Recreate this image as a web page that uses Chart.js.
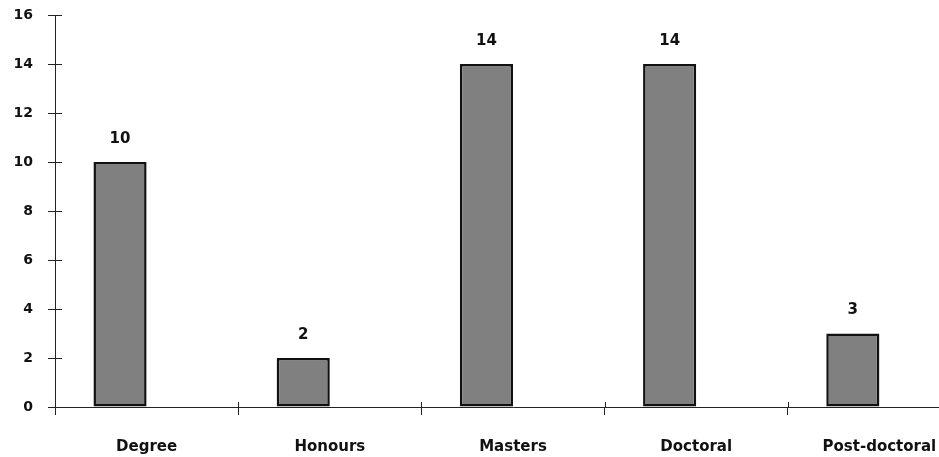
<!DOCTYPE html>
<html>
<head>
<meta charset="utf-8">
<script src="https://cdn.jsdelivr.net/npm/chart.js@4"></script>
<style>
  html, body { margin: 0; padding: 0; background: #fff; overflow: hidden; }
  #wrap { position: relative; width: 976px; height: 457px; }
</style>
</head>
<body>
<div id="wrap"><canvas id="c"></canvas></div>
<script>
// Qualification levels and counts
const categories = ['Degree', 'Honours', 'Masters', 'Doctoral', 'Post-doctoral'];
const counts = [10, 2, 14, 14, 3];
// Empty companion series (keeps the bars to the left half of each slot)
const spare = [null, null, null, null, null];
const yTicks = [0, 2, 4, 6, 8, 10, 12, 14, 16];

const FONT = 'DejaVu Sans';

// Short tick marks on the inner side of both axes, plus value labels above bars
const extras = {
  id: 'extras',
  afterDatasetsDraw(chart) {
    const ctx = chart.ctx;
    const x = chart.scales.x, y = chart.scales.y;
    ctx.save();
    ctx.strokeStyle = '#222';
    ctx.lineWidth = 1;
    ctx.beginPath();
    y.ticks.forEach((t, i) => {
      const py = Math.round(y.getPixelForTick(i)) + 0.5;
      ctx.moveTo(x.left, py); ctx.lineTo(x.left + 7, py);
    });
    for (let i = 1; i < categories.length; i++) {
      const px = Math.round((x.getPixelForTick(i) + x.getPixelForTick(i - 1)) / 2) + 0.5;
      ctx.moveTo(px, y.bottom); ctx.lineTo(px, y.bottom - 5);
    }
    ctx.stroke();

    const meta = chart.getDatasetMeta(0);
    ctx.fillStyle = '#111';
    ctx.font = 'bold 15px ' + FONT;
    ctx.textAlign = 'center';
    ctx.textBaseline = 'middle';
    meta.data.forEach((bar, i) => {
      ctx.fillText(String(counts[i]), bar.x, bar.y - 23);
    });
    ctx.restore();
  }
};

new Chart(document.getElementById('c'), {
  type: 'bar',
  data: {
    labels: categories,
    datasets: [
      { data: counts, backgroundColor: '#808080', borderColor: '#111', borderWidth: 2.5,
        borderSkipped: false, categoryPercentage: 0.58, barPercentage: 1.0 },
      { data: spare, backgroundColor: 'rgba(0,0,0,0)',
        categoryPercentage: 0.58, barPercentage: 1.0 }
    ]
  },
  options: {
    responsive: true,
    maintainAspectRatio: false,
    animation: false,
    events: [],
    layout: { padding: { top: 15, right: 5, left: 0, bottom: 0 } },
    plugins: { legend: { display: false }, tooltip: { enabled: false } },
    scales: {
      x: {
        offset: true,
        grid: { offset: true, drawOnChartArea: false, tickLength: 8, color: '#222', lineWidth: 1 },
        border: { color: '#222', width: 1 },
        ticks: { color: '#111', font: { family: FONT, size: 15, weight: 'bold' }, padding: 23, maxRotation: 0, autoSkip: false },
        afterFit(s) { s.height = 50; s.paddingLeft = 0; s.paddingRight = 0; }
      },
      y: {
        min: 0, max: 16,
        afterBuildTicks(s) { s.ticks = yTicks.map(v => ({ value: v })); },
        grid: { drawOnChartArea: false, tickLength: 7, color: '#222', lineWidth: 1 },
        border: { color: '#222', width: 1 },
        ticks: { color: '#111', font: { family: FONT, size: 14, weight: 'bold' }, padding: 15 },
        afterFit(s) { s.width = 55; s.paddingTop = 0; s.paddingBottom = 0; }
      }
    }
  },
  plugins: [extras]
});
</script>
</body>
</html>
